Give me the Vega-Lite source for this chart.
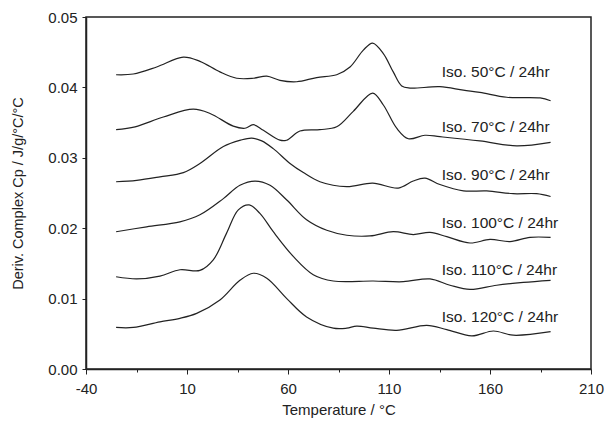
{
  "$schema": "https://vega.github.io/schema/vega-lite/v6.json",
  "width": 505,
  "height": 352,
  "autosize": {"type": "none"},
  "padding": {"left": 86, "top": 17, "right": 16, "bottom": 52},
  "config": {
    "view": {"stroke": "#222", "strokeWidth": 1.5},
    "font": "Liberation Sans",
    "axis": {
      "domainColor": "#222",
      "domainWidth": 1.5,
      "tickColor": "#222",
      "tickWidth": 1,
      "tickSize": 4,
      "grid": false,
      "labelFont": "Liberation Sans",
      "labelFontSize": 15,
      "labelColor": "#222",
      "titleFont": "Liberation Sans",
      "titleFontSize": 15,
      "titleFontWeight": "normal",
      "titleColor": "#222"
    }
  },
  "datasets": {
    "curves": [
      {"series": "50", "t": -25.1, "v": 0.0418},
      {"series": "50", "t": -16.6, "v": 0.0419},
      {"series": "50", "t": -5.0, "v": 0.0429},
      {"series": "50", "t": 8.2, "v": 0.0443},
      {"series": "50", "t": 16.4, "v": 0.0437},
      {"series": "50", "t": 26.3, "v": 0.0422},
      {"series": "50", "t": 34.6, "v": 0.0413},
      {"series": "50", "t": 42.8, "v": 0.0413},
      {"series": "50", "t": 49.5, "v": 0.0416},
      {"series": "50", "t": 56.0, "v": 0.0410},
      {"series": "50", "t": 64.3, "v": 0.0408},
      {"series": "50", "t": 74.2, "v": 0.0414},
      {"series": "50", "t": 84.1, "v": 0.0418},
      {"series": "50", "t": 90.7, "v": 0.0429},
      {"series": "50", "t": 97.3, "v": 0.0453},
      {"series": "50", "t": 101.9, "v": 0.0463},
      {"series": "50", "t": 107.2, "v": 0.0448},
      {"series": "50", "t": 112.1, "v": 0.0422},
      {"series": "50", "t": 116.3, "v": 0.0402},
      {"series": "50", "t": 120.4, "v": 0.0399},
      {"series": "50", "t": 135.2, "v": 0.0401},
      {"series": "50", "t": 146.8, "v": 0.0396},
      {"series": "50", "t": 155.0, "v": 0.0393},
      {"series": "50", "t": 168.3, "v": 0.0386},
      {"series": "50", "t": 184.8, "v": 0.0385},
      {"series": "50", "t": 190.0, "v": 0.0381},

      {"series": "70", "t": -25.1, "v": 0.0340},
      {"series": "70", "t": -15.7, "v": 0.0344},
      {"series": "70", "t": -1.7, "v": 0.0358},
      {"series": "70", "t": 13.1, "v": 0.0369},
      {"series": "70", "t": 21.4, "v": 0.0363},
      {"series": "70", "t": 32.9, "v": 0.0345},
      {"series": "70", "t": 38.7, "v": 0.0342},
      {"series": "70", "t": 42.8, "v": 0.0347},
      {"series": "70", "t": 47.8, "v": 0.0339},
      {"series": "70", "t": 56.0, "v": 0.0325},
      {"series": "70", "t": 59.3, "v": 0.0325},
      {"series": "70", "t": 65.9, "v": 0.0338},
      {"series": "70", "t": 75.8, "v": 0.0340},
      {"series": "70", "t": 84.1, "v": 0.0344},
      {"series": "70", "t": 92.3, "v": 0.0366},
      {"series": "70", "t": 101.9, "v": 0.0392},
      {"series": "70", "t": 107.2, "v": 0.0375},
      {"series": "70", "t": 113.8, "v": 0.0342},
      {"series": "70", "t": 119.6, "v": 0.0327},
      {"series": "70", "t": 127.8, "v": 0.0332},
      {"series": "70", "t": 135.2, "v": 0.0330},
      {"series": "70", "t": 155.0, "v": 0.0324},
      {"series": "70", "t": 173.2, "v": 0.0317},
      {"series": "70", "t": 190.0, "v": 0.0322},

      {"series": "90", "t": -25.1, "v": 0.0266},
      {"series": "90", "t": -14.9, "v": 0.0268},
      {"series": "90", "t": -3.4, "v": 0.0273},
      {"series": "90", "t": 8.2, "v": 0.0279},
      {"series": "90", "t": 16.4, "v": 0.0292},
      {"series": "90", "t": 28.0, "v": 0.0316},
      {"series": "90", "t": 36.5, "v": 0.0325},
      {"series": "90", "t": 42.0, "v": 0.0328},
      {"series": "90", "t": 47.0, "v": 0.0324},
      {"series": "90", "t": 52.7, "v": 0.0313},
      {"series": "90", "t": 61.0, "v": 0.0292},
      {"series": "90", "t": 67.6, "v": 0.0279},
      {"series": "90", "t": 75.8, "v": 0.0266},
      {"series": "90", "t": 89.1, "v": 0.0259},
      {"series": "90", "t": 101.9, "v": 0.0264},
      {"series": "90", "t": 114.6, "v": 0.0257},
      {"series": "90", "t": 122.0, "v": 0.0267},
      {"series": "90", "t": 127.8, "v": 0.0271},
      {"series": "90", "t": 135.2, "v": 0.0262},
      {"series": "90", "t": 146.8, "v": 0.0253},
      {"series": "90", "t": 158.4, "v": 0.0253},
      {"series": "90", "t": 171.5, "v": 0.0249},
      {"series": "90", "t": 183.1, "v": 0.0249},
      {"series": "90", "t": 190.0, "v": 0.0245},

      {"series": "100", "t": -25.1, "v": 0.0195},
      {"series": "100", "t": -10.0, "v": 0.0202},
      {"series": "100", "t": 6.5, "v": 0.0209},
      {"series": "100", "t": 16.4, "v": 0.0219},
      {"series": "100", "t": 28.0, "v": 0.0242},
      {"series": "100", "t": 36.2, "v": 0.0261},
      {"series": "100", "t": 43.7, "v": 0.0267},
      {"series": "100", "t": 51.1, "v": 0.0261},
      {"series": "100", "t": 59.4, "v": 0.0240},
      {"series": "100", "t": 69.2, "v": 0.0212},
      {"series": "100", "t": 79.2, "v": 0.0197},
      {"series": "100", "t": 89.1, "v": 0.0190},
      {"series": "100", "t": 100.6, "v": 0.0189},
      {"series": "100", "t": 112.1, "v": 0.0195},
      {"series": "100", "t": 122.0, "v": 0.0191},
      {"series": "100", "t": 130.3, "v": 0.0194},
      {"series": "100", "t": 138.6, "v": 0.0188},
      {"series": "100", "t": 150.1, "v": 0.0179},
      {"series": "100", "t": 160.0, "v": 0.0184},
      {"series": "100", "t": 169.9, "v": 0.0181},
      {"series": "100", "t": 179.8, "v": 0.0187},
      {"series": "100", "t": 190.0, "v": 0.0187},

      {"series": "110", "t": -25.1, "v": 0.0131},
      {"series": "110", "t": -14.9, "v": 0.0128},
      {"series": "110", "t": -3.4, "v": 0.0132},
      {"series": "110", "t": 6.5, "v": 0.0141},
      {"series": "110", "t": 16.4, "v": 0.0140},
      {"series": "110", "t": 23.0, "v": 0.0155},
      {"series": "110", "t": 29.6, "v": 0.0193},
      {"series": "110", "t": 35.4, "v": 0.0226},
      {"series": "110", "t": 40.8, "v": 0.0233},
      {"series": "110", "t": 46.1, "v": 0.0221},
      {"series": "110", "t": 52.7, "v": 0.0195},
      {"series": "110", "t": 62.6, "v": 0.0160},
      {"series": "110", "t": 72.5, "v": 0.0134},
      {"series": "110", "t": 82.4, "v": 0.0125},
      {"series": "110", "t": 102.2, "v": 0.0125},
      {"series": "110", "t": 117.1, "v": 0.0124},
      {"series": "110", "t": 130.3, "v": 0.0128},
      {"series": "110", "t": 140.2, "v": 0.0119},
      {"series": "110", "t": 150.1, "v": 0.0113},
      {"series": "110", "t": 163.3, "v": 0.0119},
      {"series": "110", "t": 176.5, "v": 0.0123},
      {"series": "110", "t": 190.0, "v": 0.0126},

      {"series": "120", "t": -25.1, "v": 0.0059},
      {"series": "120", "t": -16.6, "v": 0.0059},
      {"series": "120", "t": -3.4, "v": 0.0067},
      {"series": "120", "t": 6.5, "v": 0.0072},
      {"series": "120", "t": 14.8, "v": 0.0079},
      {"series": "120", "t": 26.3, "v": 0.0098},
      {"series": "120", "t": 36.2, "v": 0.0126},
      {"series": "120", "t": 42.8, "v": 0.0136},
      {"series": "120", "t": 49.5, "v": 0.0129},
      {"series": "120", "t": 59.4, "v": 0.0100},
      {"series": "120", "t": 69.2, "v": 0.0074},
      {"series": "120", "t": 82.4, "v": 0.0058},
      {"series": "120", "t": 89.1, "v": 0.0058},
      {"series": "120", "t": 94.0, "v": 0.0061},
      {"series": "120", "t": 102.2, "v": 0.0058},
      {"series": "120", "t": 113.8, "v": 0.0055},
      {"series": "120", "t": 128.7, "v": 0.0062},
      {"series": "120", "t": 138.6, "v": 0.0056},
      {"series": "120", "t": 151.0, "v": 0.0047},
      {"series": "120", "t": 161.7, "v": 0.0054},
      {"series": "120", "t": 171.5, "v": 0.0048},
      {"series": "120", "t": 190.0, "v": 0.0053}
    ],
    "labels": [
      {"label": "Iso. 50°C / 24hr", "t": 136.1, "v": 0.0422},
      {"label": "Iso. 70°C / 24hr", "t": 136.1, "v": 0.0344},
      {"label": "Iso. 90°C / 24hr", "t": 136.1, "v": 0.0275},
      {"label": "Iso. 100°C / 24hr", "t": 136.1, "v": 0.0207},
      {"label": "Iso. 110°C / 24hr", "t": 136.1, "v": 0.0141},
      {"label": "Iso. 120°C / 24hr", "t": 136.1, "v": 0.0074}
    ]
  },
  "layer": [
    {
      "data": {"name": "curves"},
      "mark": {"type": "line", "interpolate": "catmull-rom", "color": "#222", "strokeWidth": 1.2},
      "encoding": {
        "x": {
          "field": "t",
          "type": "quantitative",
          "scale": {"domain": [-40, 210], "nice": false, "zero": false},
          "axis": {
            "values": [-40, -15, 10, 35, 60, 85, 110, 135, 160, 185, 210],
            "labelExpr": "(datum.value + 40) % 50 == 0 ? replace(datum.label, '−', '-') : ''",
            "tickSize": {"condition": {"test": "(datum.value + 40) % 50 == 0", "value": 5}, "value": 3},
            "title": "Temperature / °C",
            "titlePadding": 6,
            "labelPadding": 7,
            "labelFlush": false,
            "labelOverlap": false
          }
        },
        "y": {
          "field": "v",
          "type": "quantitative",
          "scale": {"domain": [0, 0.05], "nice": false},
          "axis": {
            "values": [0, 0.01, 0.02, 0.03, 0.04, 0.05],
            "format": ".2f",
            "title": "Deriv. Complex Cp / J/g/°C/°C",
            "titleFontSize": 14.5,
            "titlePadding": 22,
            "labelPadding": 5,
            "labelFlush": false
          }
        },
        "detail": {"field": "series", "type": "nominal"}
      }
    },
    {
      "data": {"name": "labels"},
      "mark": {"type": "text", "align": "left", "baseline": "middle", "font": "Liberation Sans", "fontSize": 15.5, "color": "#222"},
      "encoding": {
        "x": {"field": "t", "type": "quantitative"},
        "y": {"field": "v", "type": "quantitative"},
        "text": {"field": "label", "type": "nominal"}
      }
    }
  ]
}
